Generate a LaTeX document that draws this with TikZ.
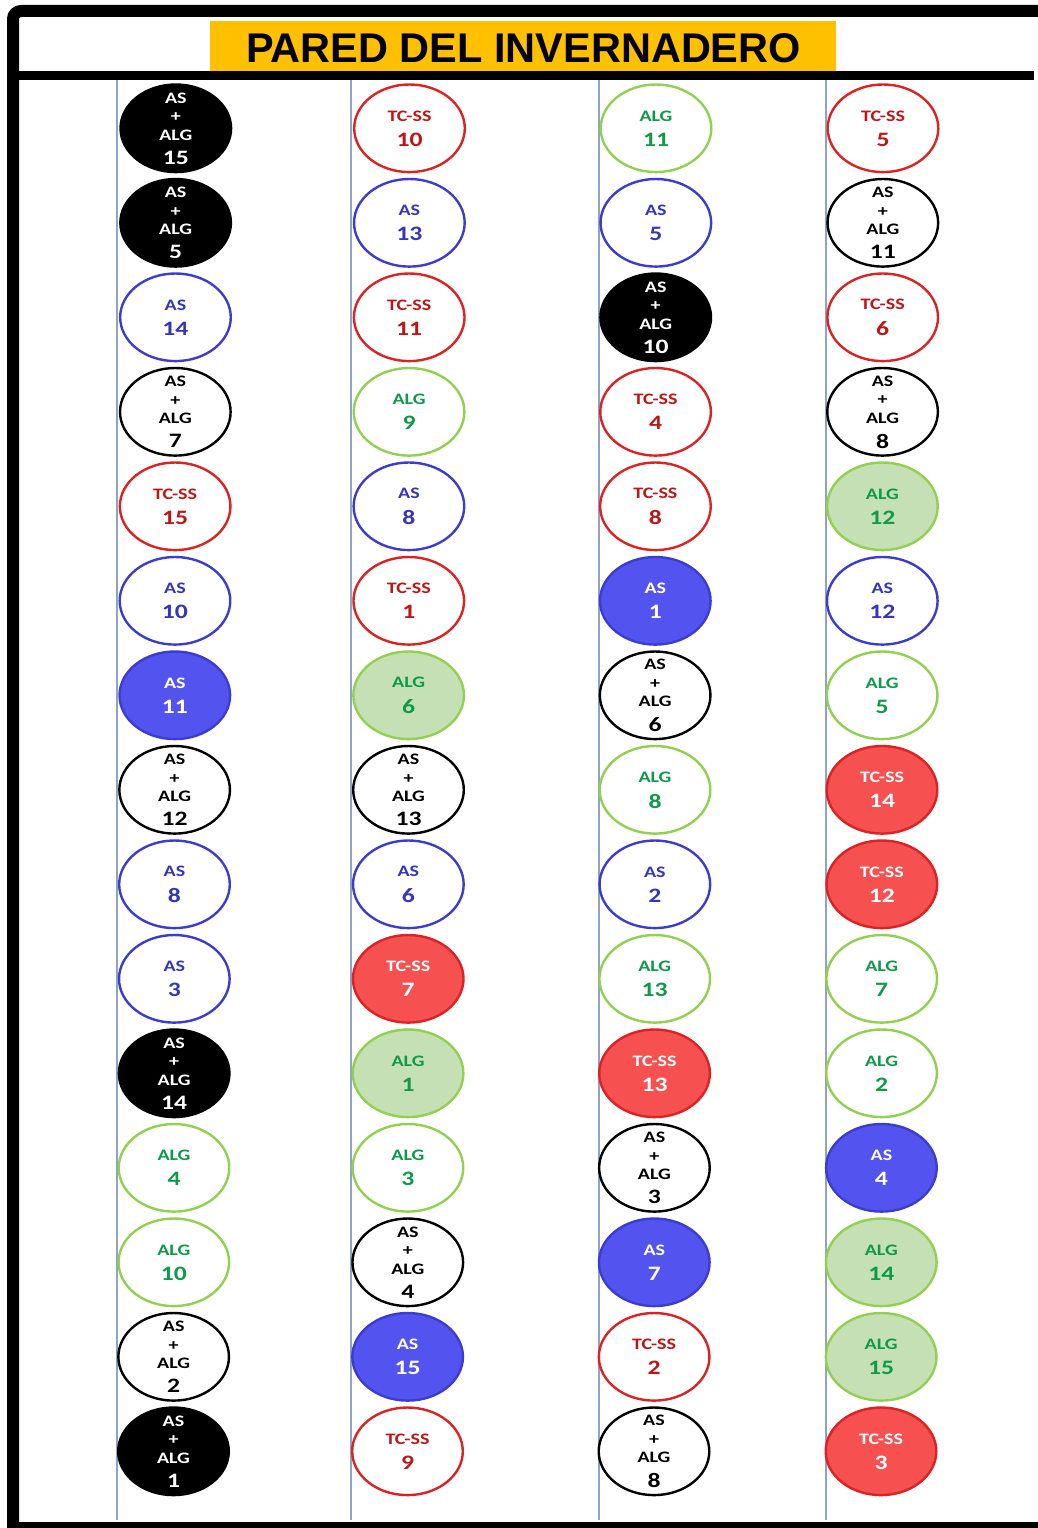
\documentclass[tikz,border=0pt]{standalone}
\usepackage{fontspec}
\usepackage{graphicx}
\setmainfont{Carlito}
\newfontfamily\titlefont{Liberation Sans}
\usetikzlibrary{shapes.geometric}

\definecolor{headeryellow}{HTML}{FFC000}
\definecolor{gridline}{HTML}{8EA3C6}
\definecolor{asline}{HTML}{3C3CD2}
\definecolor{astext}{HTML}{3535BE}
\definecolor{asfill}{HTML}{5353F0}
\definecolor{tcline}{HTML}{DC2222}
\definecolor{tctext}{HTML}{BE1616}
\definecolor{tcfill}{HTML}{F65050}
\definecolor{algline}{HTML}{92D050}
\definecolor{algtext}{HTML}{0F9A4A}
\definecolor{algfill}{HTML}{C5E0B4}

% label layouts for each kind of plot; the stack is kept out of the
% shape's size so every ellipse stays the same
\newcommand\numfont{\fontsize{20.5}{24}\selectfont}
\newcommand\stack[1]{\smash{\raisebox{-6pt}{\smash{\scalebox{1.25}[1]{\begin{tabular}{@{}c@{}}#1\end{tabular}}}}}}
\newcommand\mixlabel[1]{\stack{AS\\+\\ALG\\[5pt]\numfont #1}}
\newcommand\labmixD[1]{\mixlabel{#1}}
\newcommand\labmixO[1]{\mixlabel{#1}}
\newcommand\labasO[1]{\stack{AS\\[6pt]\numfont #1}}
\newcommand\labasF[1]{\stack{AS\\[6pt]\numfont #1}}
\newcommand\labtcO[1]{\stack{TC-SS\\[6pt]\numfont #1}}
\newcommand\labtcF[1]{\stack{TC-SS\\[6pt]\numfont #1}}
\newcommand\labalgO[1]{\stack{ALG\\[6pt]\numfont #1}}
\newcommand\labalgF[1]{\stack{ALG\\[6pt]\numfont #1}}

\tikzset{
  plot/.style={ellipse, minimum width=110.6pt, minimum height=87.6pt, inner sep=0pt,
    line width=2.4pt, font=\bfseries\fontsize{16}{18.5}\selectfont},
  mixD/.style={draw=black, fill=black, text=white},
  mixO/.style={draw=black, fill=white, text=black},
  asO/.style={draw=asline, fill=white, text=astext},
  asF/.style={draw=asline, fill=asfill, text=white},
  tcO/.style={draw=tcline, fill=white, text=tctext},
  tcF/.style={draw=tcline, fill=tcfill, text=white},
  algO/.style={draw=algline, fill=white, text=algtext},
  algF/.style={draw=algline, fill=algfill, text=algtext},
  divider/.style={draw=gridline, line width=1.3pt}
}

\begin{document}
\begin{tikzpicture}[x=1pt, y=-1pt]
  \useasboundingbox (0,0) rectangle (1038,1528);
  \clip (0,0) rectangle (1038,1528);

  % frame of the wall
  \draw[line width=12pt, rounded corners=8pt] (13,1540) -- (13,11) -- (1050,11);
  \fill (7,1522) rectangle (1040,1530);
  \fill (13,71) rectangle (1034,80);

  % header
  \fill[headeryellow] (210,21) rectangle (836,71);
  \node[font=\titlefont\bfseries\fontsize{41.5}{42}\selectfont, inner sep=0pt] (title) at (523.5,48) {PARED DEL INVERNADERO};

  % row dividers between the columns
  \foreach \gx in {117, 351, 599, 826}
    \draw[divider] (\gx,80) -- (\gx,1520);

  % column 1
  \foreach \kind/\num [count=\r from 0] in {mixD/15, mixD/5, asO/14, mixO/7, tcO/15, asO/10, asF/11, mixO/12, asO/8, asO/3, mixD/14, algO/4, algO/10, mixO/2, mixD/1}
    \node[plot, \kind] (a-\r) at ({175.8-2.3*\r/14},{128.3+94.5*\r}) {\csname lab\kind\endcsname{\num}};

  % column 2
  \foreach \kind/\num [count=\r from 0] in {tcO/10, asO/13, tcO/11, algO/9, asO/8, tcO/1, algF/6, mixO/13, asO/6, tcF/7, algF/1, algO/3, mixO/4, asF/15, tcO/9}
    \node[plot, \kind] (b-\r) at ({409.5-2*\r/14},{128.3+94.5*\r}) {\csname lab\kind\endcsname{\num}};

  % column 3
  \foreach \kind/\num [count=\r from 0] in {algO/11, asO/5, mixD/10, tcO/4, tcO/8, asF/1, mixO/6, algO/8, asO/2, algO/13, tcF/13, mixO/3, asF/7, tcO/2, mixO/8}
    \node[plot, \kind] (c-\r) at ({656-2*\r/14},{128.3+94.5*\r}) {\csname lab\kind\endcsname{\num}};

  % column 4
  \foreach \kind/\num [count=\r from 0] in {tcO/5, mixO/11, tcO/6, mixO/8, algF/12, asO/12, algO/5, tcF/14, tcF/12, algO/7, algO/2, asF/4, algF/14, algF/15, tcF/3}
    \node[plot, \kind] (d-\r) at ({883-2*\r/14},{128.3+94.5*\r}) {\csname lab\kind\endcsname{\num}};
\end{tikzpicture}
\end{document}
